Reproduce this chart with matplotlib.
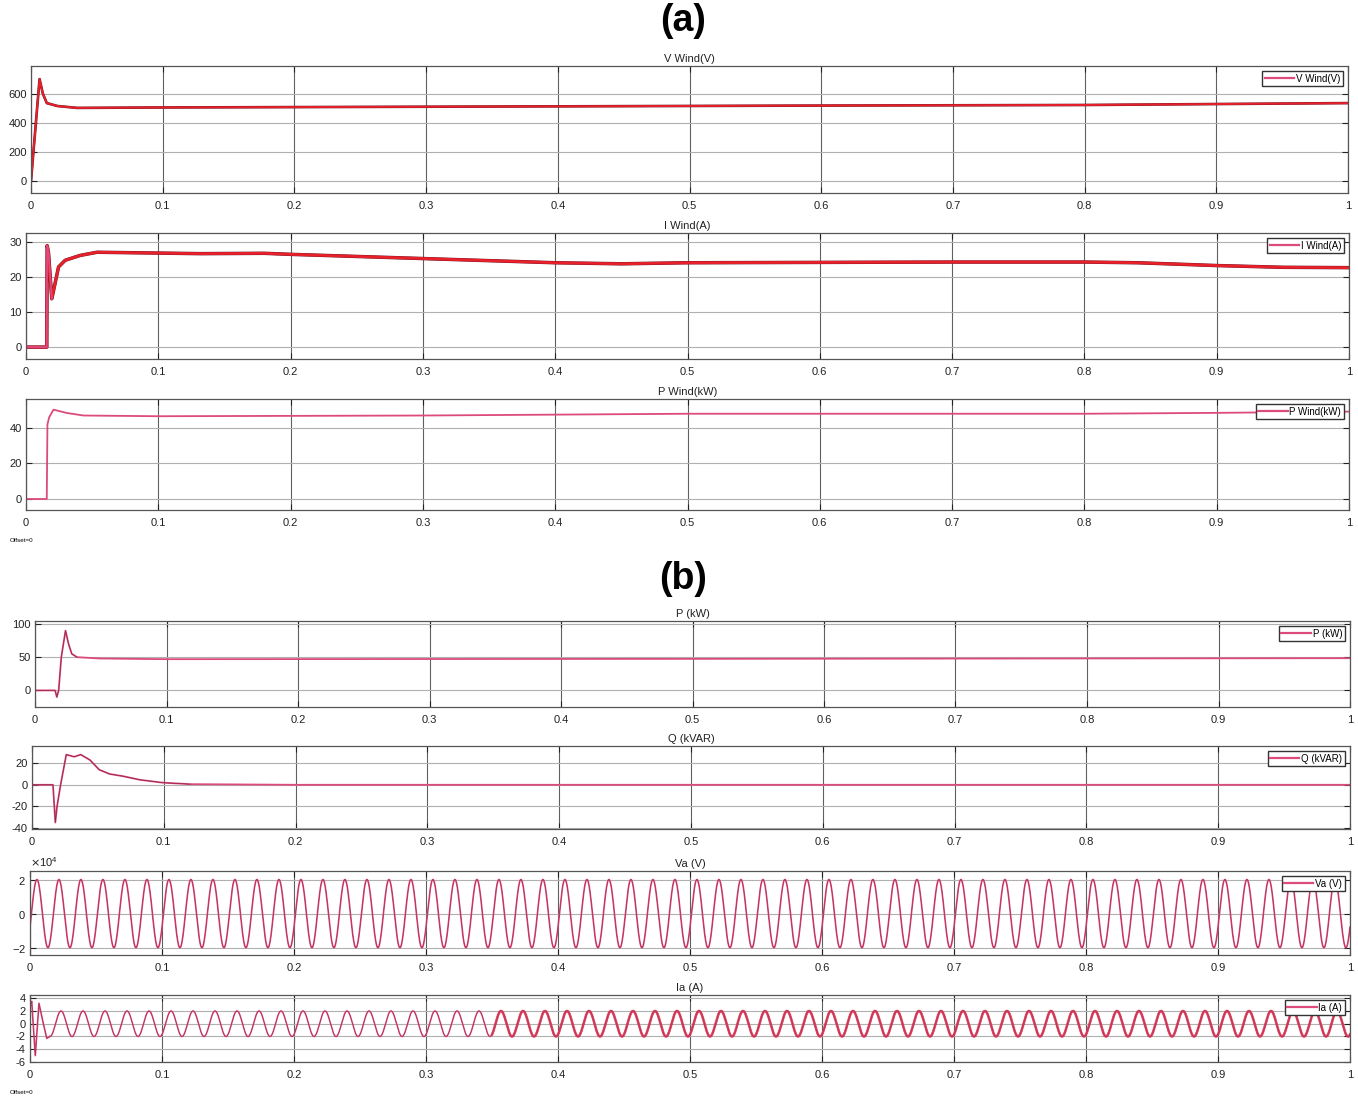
import numpy as np
import matplotlib
matplotlib.use("Agg")
import matplotlib.pyplot as plt
from matplotlib.lines import Line2D
from matplotlib.ticker import ScalarFormatter

plt.rcParams['font.family'] = ['Liberation Sans', 'DejaVu Sans']
plt.rcParams['axes.unicode_minus'] = False

# ---------------- data ----------------
# (a) V Wind (V)
t_vwind = [0, 0.0065, 0.009, 0.012, 0.02, 0.035, 0.1, 0.3, 0.6, 0.8, 1.0]
v_wind = [0, 700, 600, 535, 515, 502, 505, 510, 518, 522, 535]

# (a) I Wind (A)
t_iwind = [0, 0.0157, 0.016, 0.017, 0.0195, 0.0246, 0.0296, 0.041, 0.0537, 0.132,
           0.18, 0.2, 0.3, 0.4, 0.45, 0.5, 0.6, 0.7, 0.8, 0.84, 0.9, 0.95, 1.0]
i_wind = [0, 0, 29, 27, 13.8, 22.9, 24.8, 26.2, 27.1, 26.7,
          26.8, 26.5, 25.3, 24.1, 23.8, 24.1, 24.2, 24.3, 24.3, 24.1, 23.3, 22.8, 22.7]

# (a) P Wind (kW)
t_pwind = [0, 0.0157, 0.0162, 0.0175, 0.0208, 0.031, 0.0435, 0.1, 0.3, 0.5, 0.8, 0.9, 1.0]
p_wind = [0, 0, 42, 46, 50.3, 48.4, 47, 46.6, 47, 48, 48, 48.5, 49.2]

# (b) P (kW)
t_p = [0, 0.0153, 0.0166, 0.018, 0.02, 0.0232, 0.0255, 0.028, 0.032, 0.05, 0.1, 0.5, 1.0]
p_kw = [0, 0, -10, 0, 50, 90, 70, 55, 50, 48, 47, 47.5, 48.5]

# (b) Q (kVAR)
t_q = [0, 0.0159, 0.0177, 0.019, 0.0217, 0.026, 0.032, 0.037, 0.044, 0.051,
       0.059, 0.069, 0.082, 0.099, 0.12, 0.2, 1.0]
q_kvar = [0, 0, -35, -20, 0, 28, 26, 28, 23, 14, 10, 8, 4.6, 2, 0.6, 0, 0]

# (b) Va (V): 60 Hz sinusoid parameters
va_amplitude = 2.0e4
va_freq = 60.0
va_first_peak = 0.00525

# (b) Ia (A): start-up transient points, then 60 Hz sinusoid
t_ia_start = [0, 0.0005, 0.0013, 0.004, 0.0068, 0.0098, 0.0127, 0.015]
ia_start = [2.5, 3.0, 3.5, -5.0, 3.2, 0.3, -2.3, -2.0]
ia_amplitude = 2.0
ia_freq = 60.0
ia_first_peak = 0.0235

x_ticks = [0, 0.1, 0.2, 0.3, 0.4, 0.5, 0.6, 0.7, 0.8, 0.9, 1]
x_ticklabels = ['0', '0.1', '0.2', '0.3', '0.4', '0.5', '0.6', '0.7', '0.8', '0.9', '1']

# ---------------- figure ----------------
W, H = 1358, 1104
fig = plt.figure(figsize=(W / 100, H / 100), dpi=100)
fig.patch.set_facecolor('white')

PINK = '#dc4a7e'
RED = '#e8202a'
DARK = '#6a1828'


def add_ax(left, top, right, bottom):
    return fig.add_axes([left / W, 1 - bottom / H, (right - left) / W, (bottom - top) / H])


def style(ax, title, ylim, yticks, legend_label, yticklabels=None):
    ax.set_xlim(0, 1)
    ax.set_ylim(*ylim)
    ax.set_xticks(x_ticks)
    ax.set_xticklabels(x_ticklabels)
    ax.set_yticks(yticks)
    if yticklabels is not None:
        ax.set_yticklabels(yticklabels)
    ax.tick_params(axis='both', labelsize=8, colors='#222222', direction='in',
                   length=4, width=0.8, top=True, right=True)
    ax.tick_params(axis='x', pad=6)
    ax.tick_params(axis='y', pad=3)
    for s in ax.spines.values():
        s.set_color('#555555')
        s.set_linewidth(0.9)
    ax.grid(axis='x', color='#606060', lw=0.8)
    ax.grid(axis='y', color='#b0b0b0', lw=0.8)
    ax.set_axisbelow(True)
    ax.set_title(title, fontsize=8, pad=3, color='#222222')
    h = [Line2D([0], [0], color=PINK, lw=1.6)]
    ax.legend(h, [legend_label], loc='upper right', fontsize=7, frameon=True,
              fancybox=False, edgecolor='#333333', framealpha=1, handlelength=3.0,
              handletextpad=0.2, borderpad=0.25, borderaxespad=0.55)


# panel labels
fig.text(683 / W, 1 - 21 / H, '(a)', fontsize=27, fontweight='bold', ha='center', va='center')
fig.text(683 / W, 1 - 579 / H, '(b)', fontsize=27, fontweight='bold', ha='center', va='center')

# V Wind
ax = add_ax(31, 66, 1348, 193)
ax.plot(t_vwind, v_wind, color=DARK, lw=1.9)
ax.plot(t_vwind, v_wind, color=RED, lw=1.4)
style(ax, 'V Wind(V)', (-83, 790), [0, 200, 400, 600], 'V Wind(V)')

# I Wind
ax = add_ax(26, 233, 1349, 359)
ax.plot(t_iwind, i_wind, color=DARK, lw=2.5)
ax.plot(t_iwind, i_wind, color=RED, lw=2.0)
ax.plot(t_iwind[:5], i_wind[:5], color=PINK, lw=1.3)
style(ax, 'I Wind(A)', (-3.4, 32.6), [0, 10, 20, 30], 'I Wind(A)')

# P Wind
ax = add_ax(26, 399, 1349, 510)
ax.plot(t_pwind, p_wind, color=PINK, lw=1.3)
style(ax, 'P Wind(kW)', (-6.2, 56.3), [0, 20, 40], 'P Wind(kW)')
fig.text(10 / W, 1 - 540 / H, 'Offset=0', fontsize=4.5, va='center')

# P (kW)
ax = add_ax(35, 621, 1350, 707)
ax.plot(t_p, p_kw, color=PINK, lw=1.3)
ax.plot(t_p[:9], p_kw[:9], color=DARK, lw=0.5, alpha=0.7)
style(ax, 'P (kW)', (-25, 104.5), [0, 50, 100], 'P (kW)')

# Q (kVAR)
ax = add_ax(32, 746, 1350, 829)
ax.plot(t_q, q_kvar, color=PINK, lw=1.3)
ax.plot(t_q[:15], q_kvar[:15], color=DARK, lw=0.5, alpha=0.7)
style(ax, 'Q (kVAR)', (-41, 36), [-40, -20, 0, 20], 'Q (kVAR)')

# Va (V)
t_va = np.linspace(0, 1, 20001)
va = va_amplitude * np.cos(2 * np.pi * va_freq * (t_va - va_first_peak))
ax = add_ax(30, 871, 1350, 955)
ax.plot(t_va, va, color=PINK, lw=1.2)
ax.plot(t_va, va, color=DARK, lw=0.35, alpha=0.6)
style(ax, 'Va (V)', (-2.43e4, 2.5e4), [-2e4, 0, 2e4], 'Va (V)')
fmt = ScalarFormatter(useMathText=True)
fmt.set_powerlimits((0, 0))
ax.yaxis.set_major_formatter(fmt)
ax.yaxis.get_offset_text().set_fontsize(8)

# Ia (A)
t_ia_sine = np.linspace(t_ia_start[-1], 1, 20001)
ia_sine = ia_amplitude * np.cos(2 * np.pi * ia_freq * (t_ia_sine - ia_first_peak))
ax = add_ax(30, 995, 1350, 1062)
late = t_ia_sine > 0.35
ax.plot(t_ia_sine[late], ia_sine[late], color=RED, lw=1.8, alpha=0.9)
ax.plot(t_ia_start, ia_start, color=PINK, lw=1.2)
ax.plot(t_ia_start, ia_start, color=DARK, lw=0.35, alpha=0.6)
ax.plot(t_ia_sine, ia_sine, color=PINK, lw=1.1)
ax.plot(t_ia_sine, ia_sine, color=DARK, lw=0.35, alpha=0.6)
style(ax, 'Ia (A)', (-6, 4.5), [-6, -4, -2, 0, 2, 4], 'Ia (A)')
fig.text(10 / W, 1 - 1093 / H, 'Offset=0', fontsize=4.5, va='center')

fig.savefig('out.png', dpi=100, facecolor='white')
